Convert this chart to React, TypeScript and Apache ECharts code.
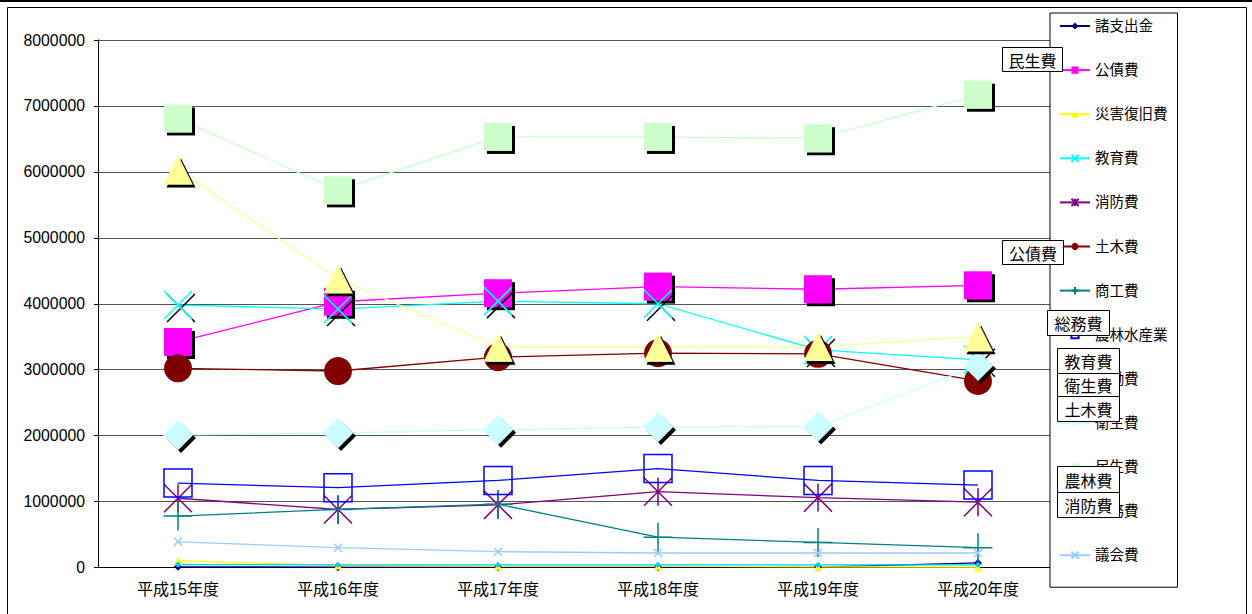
import React, { useEffect, useRef } from "react";
import * as echarts from "echarts";

const categories = ["平成15年度", "平成16年度", "平成17年度", "平成18年度", "平成19年度", "平成20年度"];
const yTicks = [0, 1000000, 2000000, 3000000, 4000000, 5000000, 6000000, 7000000, 8000000];

const shoshishutsu = [10000, 5000, 5000, 5000, 5000, 70000];
const kosaihi = [3420000, 4030000, 4160000, 4260000, 4220000, 4280000];
const saigai = [100000, 30000, 20000, 20000, 10000, 5000];
const kyoiku = [3980000, 3920000, 4040000, 4000000, 3300000, 3150000];
const shobo = [1050000, 880000, 950000, 1150000, 1060000, 990000];
const doboku = [3020000, 2980000, 3190000, 3250000, 3240000, 2830000];
const shoko = [780000, 880000, 960000, 460000, 380000, 300000];
const norin = [1280000, 1210000, 1320000, 1500000, 1320000, 1250000];
const rodo = [45000, 40000, 40000, 40000, 40000, 40000];
const eisei = [2010000, 2040000, 2090000, 2130000, 2140000, 3060000];
const minsei = [6810000, 5720000, 6530000, 6530000, 6510000, 7170000];
const somu = [6030000, 4380000, 3340000, 3340000, 3350000, 3500000];
const gikai = [390000, 300000, 240000, 220000, 220000, 220000];

const boxLabels = ["民生費", "公債費", "総務費", "教育費", "衛生費", "土木費", "農林費", "消防費"];

const X_PATH = "path://M0,0L10,10M10,0L0,10";
const STAR_PATH = "path://M0,0L10,10M10,0L0,10M5,0L5,10";
const PLUS_PATH = "path://M5,0L5,10M0,5L10,5";

const FONT = "'Liberation Sans', 'Noto Sans CJK JP', sans-serif";

type SDef = {
  name: string;
  data: number[];
  color: string;
  symbol: string;
  size: number;
  stroke?: boolean;
  hollow?: boolean;
  shadow?: boolean;
};

const defs: SDef[] = [
  { name: "諸支出金", data: shoshishutsu, color: "#000080", symbol: "diamond", size: 8 },
  { name: "公債費", data: kosaihi, color: "#FF00FF", symbol: "rect", size: 28, shadow: true },
  { name: "災害復旧費", data: saigai, color: "#FFFF00", symbol: "triangle", size: 8 },
  { name: "教育費", data: kyoiku, color: "#00FFFF", symbol: X_PATH, size: 28, stroke: true, shadow: true },
  { name: "消防費", data: shobo, color: "#800080", symbol: STAR_PATH, size: 28, stroke: true },
  { name: "土木費", data: doboku, color: "#800000", symbol: "circle", size: 28 },
  { name: "商工費", data: shoko, color: "#008080", symbol: PLUS_PATH, size: 29, stroke: true },
  { name: "農林水産業", data: norin, color: "#0000FF", symbol: "rect", size: 28, hollow: true },
  { name: "労働費", data: rodo, color: "#00CCFF", symbol: "circle", size: 5 },
  { name: "衛生費", data: eisei, color: "#CCFFFF", symbol: "diamond", size: 30, shadow: true },
  { name: "民生費", data: minsei, color: "#CCFFCC", symbol: "rect", size: 28, shadow: true },
  { name: "総務費", data: somu, color: "#FFFF99", symbol: "triangle", size: 29, shadow: true },
  { name: "議会費", data: gikai, color: "#99CCFF", symbol: X_PATH, size: 8, stroke: true },
];

const boxPos = [
  [1002, 47, 60, 24],
  [1002, 240, 61, 24],
  [1047, 310, 62, 25],
  [1057, 348, 62, 25],
  [1057, 373, 62, 23],
  [1057, 396, 62, 25],
  [1057, 466, 62, 26],
  [1057, 492, 62, 25],
];

export default function App() {
  const ref = useRef<HTMLDivElement>(null);
  useEffect(() => {
    if (!ref.current) return;
    const chart = echarts.init(ref.current, null, { renderer: "svg" });
    const series = defs.map((d) => {
      const itemStyle: any = {};
      if (d.stroke || d.hollow) {
        itemStyle.color = "transparent";
        itemStyle.borderColor = d.color;
        itemStyle.borderWidth = 1.5;
      } else {
        itemStyle.color = d.color;
        itemStyle.borderWidth = 0;
      }
      if (d.shadow) {
        itemStyle.shadowColor = "#000";
        itemStyle.shadowOffsetX = 3;
        itemStyle.shadowOffsetY = 3;
        itemStyle.shadowBlur = 0;
      }
      return {
        name: d.name,
        type: "line",
        data: d.data,
        symbol: d.symbol,
        symbolSize: d.size,
        showAllSymbol: true,
        itemStyle,
        lineStyle: { color: d.color, width: 1.3 },
        emphasis: { disabled: true },
      };
    });
    const graphics: any[] = [
      { type: "line", shape: { x1: 0, y1: 1, x2: 1252, y2: 1 }, style: { stroke: "#000", lineWidth: 2 }, z: 100 },
      { type: "rect", shape: { x: 7.5, y: 7.5, width: 1239, height: 640 }, style: { fill: "none", stroke: "#000", lineWidth: 1 }, z: 100 },
    ];
    boxLabels.forEach((t, i) => {
      const [x, y, w, h] = boxPos[i];
      graphics.push({
        type: "rect",
        shape: { x: x + 0.5, y: y + 0.5, width: w, height: h },
        style: { fill: "#fff", stroke: "#000", lineWidth: 1 },
        z: 100,
      });
      graphics.push({
        type: "text",
        x: x + w / 2 + 0.5,
        y: y + h / 2 + 0.5,
        style: { text: t, fill: "#000", font: "16px 'Noto Sans CJK JP'", align: "center", verticalAlign: "middle" },
        z: 101,
      });
    });
    chart.setOption({
      animation: false,
      backgroundColor: "#fff",
      grid: { left: 98, top: 40, right: 194, bottom: 46.5, containLabel: false },
      xAxis: {
        type: "category",
        data: categories,
        boundaryGap: true,
        axisLine: { lineStyle: { color: "#000", width: 1 } },
        axisTick: { inside: true, length: 4, lineStyle: { color: "#000" } },
        axisLabel: { color: "#000", fontSize: 16, fontFamily: FONT, margin: 14 },
        splitLine: { show: false },
      },
      yAxis: {
        type: "value",
        min: yTicks[0],
        max: yTicks[yTicks.length - 1],
        interval: yTicks[1] - yTicks[0],
        axisLine: { show: true, lineStyle: { color: "#000", width: 1 } },
        axisTick: { show: true, length: 4, lineStyle: { color: "#000" } },
        axisLabel: { color: "#000", fontSize: 15.8, fontFamily: FONT, margin: 13, formatter: (v: number) => String(v) },
        splitLine: { show: true, lineStyle: { color: "#555", width: 1 } },
      },
      legend: {
        orient: "vertical",
        left: 1050,
        top: 13,
        padding: [5, 10, 24, 9],
        itemGap: 28.1,
        itemWidth: 30,
        itemHeight: 9,
        backgroundColor: "#fff",
        borderColor: "#000",
        borderWidth: 1,
        textStyle: { color: "#000", fontSize: 14.5, fontFamily: FONT, lineHeight: 16 },
        data: defs.map((d) => d.name),
      },
      graphic: graphics,
      series,
    });
    return () => chart.dispose();
  }, []);
  return <div ref={ref} style={{ position: "fixed", left: 0, top: 0, width: 1252, height: 614 }} />;
}
